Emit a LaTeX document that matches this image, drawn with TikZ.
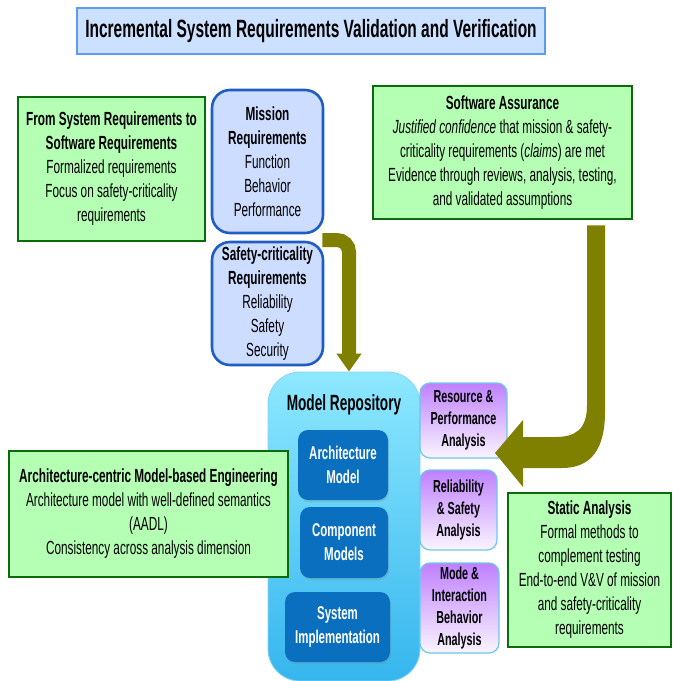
\documentclass[tikz,border=0pt]{standalone}
\usepackage{fontspec}
\setmainfont{Liberation Sans}[FakeStretch=0.62]
\usetikzlibrary{arrows.meta,shadows}

\definecolor{titlefill}{HTML}{CCE0FF}
\definecolor{titleline}{HTML}{5B9BF0}
\definecolor{reqfill}{HTML}{CCDDFF}
\definecolor{reqline}{HTML}{1F5CC4}
\definecolor{notefill}{HTML}{B5FFB5}
\definecolor{noteline}{HTML}{0B6A0B}
\definecolor{flow}{HTML}{808000}
\definecolor{repotop}{HTML}{8EE8FF}
\definecolor{repobot}{HTML}{35B6EE}
\definecolor{modelfill}{HTML}{0B6FC0}
\definecolor{anatop}{HTML}{BF80FF}
\definecolor{anabot}{HTML}{FAF5FF}
\definecolor{analine}{HTML}{6CC8EA}

\tikzset{
  txt/.style={font=\fontsize{19}{24}\selectfont, align=center, inner sep=0pt},
  titlebox/.style={draw=titleline, line width=1.5pt, fill=titlefill,
    font=\fontsize{25}{28}\selectfont\bfseries, inner sep=0pt},
  reqbox/.style={txt, draw=reqline, line width=2.6pt, fill=reqfill, rounded corners=18pt},
  notebox/.style={txt, draw=noteline, line width=2.6pt, fill=notefill},
  repobox/.style={draw=repobot!60!white, line width=0.8pt, rounded corners=32pt,
    top color=repotop, bottom color=repobot, shading angle=0},
  modelbox/.style={txt, font=\fontsize{18.5}{24}\selectfont\bfseries, text=white,
    fill=modelfill, rounded corners=10pt,
    drop shadow={shadow xshift=1pt, shadow yshift=-2pt, opacity=0.25}},
  anabox/.style={txt, font=\fontsize{17.4}{22}\selectfont\bfseries,
    draw=analine, line width=1.2pt, rounded corners=10pt,
    top color=anatop, bottom color=anabot},
  flowarrow/.style={draw=flow, line width=14pt, rounded corners=12pt,
    -{Triangle[width=24pt,length=18pt]}},
}

\begin{document}
\begin{tikzpicture}[x=1pt,y=-1pt]
\useasboundingbox (0,0) rectangle (675,681);

% heading
\node[titlebox, minimum width=468pt, minimum height=46pt] (title) at (311,31)
  {Incremental System Requirements Validation and Verification};

% requirement sources
\node[notebox, minimum width=187pt, minimum height=144pt] (fromsys) at (111.5,169)
  {\textbf{From System Requirements to}\\\textbf{Software Requirements}\\
   Formalized requirements\\Focus on safety-criticality\\requirements};

\node[reqbox, minimum width=111pt, minimum height=143pt] (mission) at (267.5,161.5)
  {\textbf{Mission}\\\textbf{Requirements}\\Function\\Behavior\\Performance};

\node[reqbox, minimum width=111pt, minimum height=123pt] (safety) at (267.5,303.5)
  {\textbf{Safety-criticality}\\\textbf{Requirements}\\Reliability\\Safety\\Security};

\node[notebox, minimum width=259pt, minimum height=133pt] (sa) at (502.5,152.5)
  {\textbf{Software Assurance}\\
   \textit{Justified confidence} that mission \& safety-\\
   criticality requirements (\textit{claims}) are met\\
   Evidence through reviews, analysis, testing,\\
   and validated assumptions};

% model repository with its models
\node[repobox, minimum width=152pt, minimum height=309pt] (repo) at (344,526.5) {};
\node[txt, font=\fontsize{22}{24}\selectfont\bfseries] (repotitle) at (344,405) {Model Repository};

\node[modelbox, minimum width=90pt, minimum height=70pt] (arch) at (343,465)
  {Architecture\\Model};
\node[modelbox, minimum width=88pt, minimum height=71pt] (comp) at (344,542.5)
  {Component\\Models};
\node[modelbox, minimum width=105pt, minimum height=70pt] (impl) at (337.5,627)
  {System\\Implementation};

\node[notebox, minimum width=279pt, minimum height=126pt] (acme) at (148.5,514)
  {\textbf{Architecture-centric Model-based Engineering}\\
   Architecture model with well-defined semantics\\(AADL)\\
   Consistency across analysis dimension};

% analyses
\node[anabox, minimum width=87pt, minimum height=75pt] (res) at (463.5,420.5)
  {Resource \&\\Performance\\Analysis};
\node[anabox, minimum width=77pt, minimum height=80pt] (rel) at (458.5,510)
  {Reliability\\\& Safety\\Analysis};
\node[anabox, minimum width=79pt, minimum height=90pt] (mode) at (459.5,608)
  {Mode \&\\Interaction\\Behavior\\Analysis};

\node[notebox, minimum width=163pt, minimum height=154pt] (static) at (589.5,570)
  {\textbf{Static Analysis}\\Formal methods to\\complement testing\\
   End-to-end V\&V of mission\\and safety-criticality\\requirements};

% requirements flow into the repository
\coordinate (reqout) at (mission.south east |- 0,240);
\coordinate (repoin) at (349,0 |- repo.north);
\draw[flowarrow] ([xshift=-2pt]reqout) -| (repoin);

% assurance feeds the analyses
\coordinate (saout) at (sa.south -| 596,0);
\fill[flow] ([xshift=-9pt,yshift=-5pt]saout)
  -- (587,405) .. controls (587,430) and (575,437) .. (555,437)
  -- (523,437) -- (523,420) -- (495,453) -- (523,487) -- (523,468)
  -- (562,468) .. controls (592,468) and (605,448) .. (605,412)
  -- ([xshift=9pt,yshift=-5pt]saout) -- cycle;
\end{tikzpicture}
\end{document}
